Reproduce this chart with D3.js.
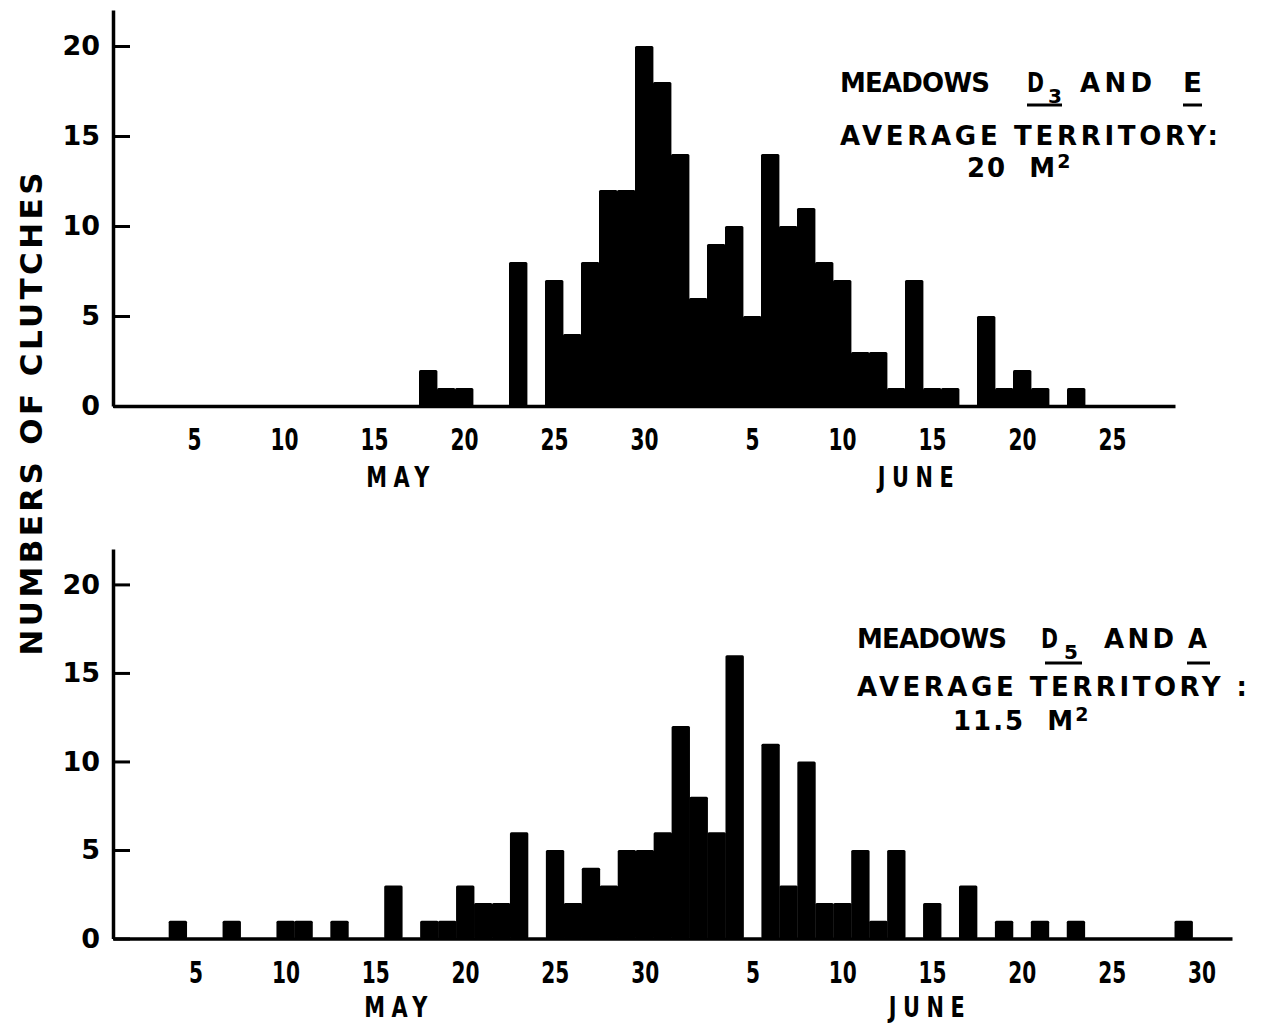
<!DOCTYPE html>
<html lang="en">
<head>
<meta charset="UTF-8">
<title>Clutches per day</title>
<script src="https://d3js.org/d3.v7.min.js"></script>
<style>
  body { margin: 0; background: #fff; }
  text { fill: #000; }
</style>
</head>
<body>
<script>
    const width = 1267;
    const height = 1024;

    // day numbers: May 1 = 1 ... June 1 = 32
    const topDays   = [18,19,20,23,25,26,27,28,29,30,31,32,33,34,35,36,37,38,39,40,41,42,43,44,45,46,47,49,50,51,52,54];
    const topCounts = [ 2, 1, 1, 8, 7, 4, 8,12,12,20,18,14, 6, 9,10, 5,14,10,11, 8, 7, 3, 3, 1, 7, 1, 1, 5, 1, 2, 1, 1];

    const botDays   = [4,7,10,11,13,16,18,19,20,21,22,23,25,26,27,28,29,30,31,32,33,34,35,37,38,39,40,41,42,43,44,46,48,50,52,54,60];
    const botCounts = [1,1, 1, 1, 1, 3, 1, 1, 3, 2, 2, 6, 5, 2, 4, 3, 5, 5, 6,12, 8, 6,16,11, 3,10, 2, 2, 5, 1, 5, 2, 3, 1, 1, 1, 1];

    const yTicks    = [0, 5, 10, 15, 20];
    const topXTicks = [5,10,15,20,25,30,36,41,46,51,56];
    const botXTicks = [5,10,15,20,25,30,36,41,46,51,56,61];
    const months    = ["MAY", "JUNE"];
    const yTitle    = "NUMBERS OF CLUTCHES";

    const topNote = {meadow1: "D", sub: "3", meadow2: "E", area: "20", unit: "M", sup: "2"};
    const botNote = {meadow1: "D", sub: "5", meadow2: "A", area: "11.5", unit: "M", sup: "2"};

    const wide = "'DejaVu Sans', Verdana, sans-serif";

    const svg = d3.select("body").append("svg")
            .attr("width", width).attr("height", height);

    const dayLabel = d => d > 31 ? d - 31 : d;

    function drawPanel(days, counts, xTicks, xDom, xRng, yRng, monthX, monthY) {
        const x = d3.scaleLinear().domain(xDom).range(xRng);
        const y = d3.scaleLinear().domain([0, 22]).range(yRng);
        const g = svg.append("g");

        // bars, one per day
        g.append("g").selectAll("rect")
                .data(days.map((d, i) => ({day: d, n: counts[i]})))
                .enter().append("rect")
                .attr("x", d => x(d.day - 0.5))
                .attr("width", d => x(d.day + 0.5) - x(d.day - 0.5) + 0.4)
                .attr("y", d => y(d.n))
                .attr("height", d => y(0) - y(d.n))
                .attr("rx", 1.5)
                .style("fill", "#000");

        // x axis (condensed lettering)
        const xAxis = g.append("g")
                .attr("transform", "translate(0," + y(0) + ")")
                .call(d3.axisBottom(x).tickValues(xTicks).tickFormat(dayLabel).tickSize(0));
        xAxis.select(".domain").attr("stroke-width", 3.5);
        xAxis.selectAll("text")
                .attr("dy", null).attr("y", 44)
                .attr("textLength", d => String(dayLabel(d)).length * 14)
                .attr("lengthAdjust", "spacingAndGlyphs")
                .style("font-family", wide).style("font-weight", "bold")
                .style("font-size", "30px");

        // y axis, ticks pointing inward
        const yAxis = g.append("g")
                .attr("transform", "translate(" + x(xDom[0]) + ",0)")
                .call(d3.axisLeft(y).tickValues(yTicks).tickSizeInner(-17).tickSizeOuter(0).tickPadding(13));
        yAxis.select(".domain").attr("stroke-width", 3.5);
        yAxis.selectAll("line").attr("stroke-width", 3);
        yAxis.selectAll("text")
                .style("font-family", wide).style("font-weight", "bold")
                .style("font-size", "27px");

        // month names, narrow and letter-spaced
        g.selectAll("text.month")
                .data(months).enter().append("text")
                .attr("class", "month")
                .attr("transform", (d, i) => "translate(" + (monthX[i] + 3) + "," + (y(0) + monthY) + ") scale(0.72,1)")
                .attr("text-anchor", "middle")
                .style("font-family", wide).style("font-weight", "bold")
                .style("font-size", "29px").style("letter-spacing", "9px")
                .text(d => d);
        return g;
    }

    function drawNote(note, ox, oy, pos) {
        const g = svg.append("g").attr("transform", "translate(" + ox + "," + oy + ")")
                .style("font-family", wide).style("font-weight", "bold").style("font-size", "26px");
        g.append("text").attr("x", 0).attr("y", 0)
                .attr("textLength", 150).attr("lengthAdjust", "spacing").text("MEADOWS");
        g.append("text").attr("x", pos.d).attr("y", 0)
                .attr("textLength", 17).attr("lengthAdjust", "spacingAndGlyphs").text(note.meadow1);
        g.append("text").attr("x", pos.sub).attr("y", 11).style("font-size", "20px").text(note.sub);
        g.append("text").attr("x", pos.and).attr("y", 0)
                .attr("textLength", pos.andW).attr("lengthAdjust", "spacing").text("AND");
        g.append("text").attr("x", pos.m2).attr("y", 0)
                .attr("textLength", 19).attr("lengthAdjust", "spacingAndGlyphs").text(note.meadow2);
        // underlines
        [pos.u1, pos.u2].forEach(u => {
            g.append("line").attr("x1", u[0]).attr("x2", u[1])
                    .attr("y1", pos.uy).attr("y2", pos.uy)
                    .attr("stroke", "#000").attr("stroke-width", 3);
        });
        g.append("text").attr("x", 0).attr("y", pos.l2)
                .attr("textLength", pos.l2w).attr("lengthAdjust", "spacing").text(pos.l2text);
        const t = g.append("text").attr("x", pos.l3x).attr("y", pos.l3)
                .attr("xml:space", "preserve");
        t.append("tspan").text(note.area + "  " + note.unit).style("letter-spacing", "2px");
        t.append("tspan").attr("dy", -9).style("font-size", "19px").text(note.sup);
    }

    drawPanel(topDays, topCounts, topXTicks, [0.5, 59.5], [113, 1175], [406, 10], [398, 916], 81);
    drawPanel(botDays, botCounts, botXTicks, [0.4, 62.7], [113, 1232], [938.5, 549], [396, 927], 78);

    drawNote(topNote, 840, 92, {
        d: 187, sub: 208, and: 240, andW: 72, m2: 343,
        u1: [187, 222], u2: [343, 362], uy: 13,
        l2: 53, l2w: 378, l2text: "AVERAGE TERRITORY:",
        l3x: 127, l3: 85
    });
    drawNote(botNote, 857, 648, {
        d: 184, sub: 207, and: 247, andW: 70, m2: 331,
        u1: [188, 225], u2: [330, 353], uy: 15,
        l2: 48, l2w: 390, l2text: "AVERAGE TERRITORY :",
        l3x: 96, l3: 82
    });

    // shared y title
    svg.append("text")
            .attr("transform", "translate(42,414) rotate(-90)")
            .attr("text-anchor", "middle")
            .attr("textLength", 483).attr("lengthAdjust", "spacing")
            .style("font-family", wide).style("font-weight", "bold")
            .style("font-size", "31px")
            .text(yTitle);
</script>
</body>
</html>
